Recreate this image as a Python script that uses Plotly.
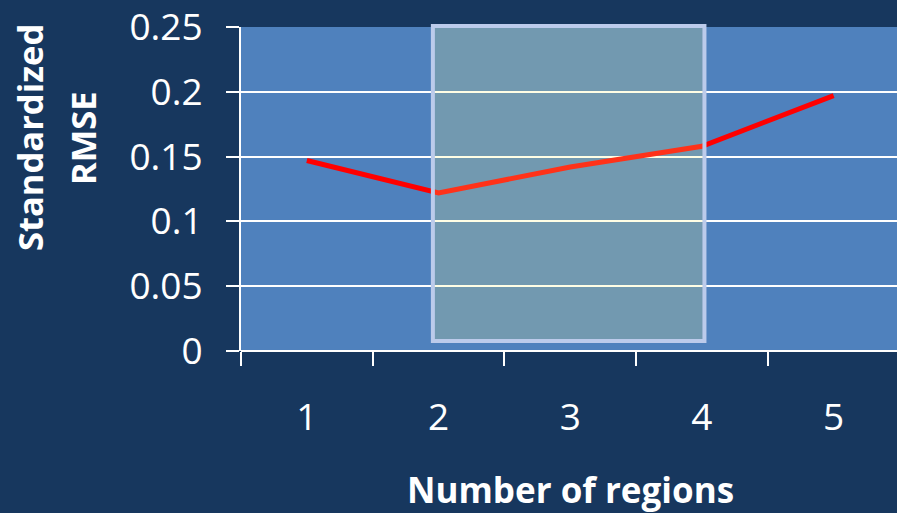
import plotly.graph_objects as go

regions = [1, 2, 3, 4, 5]
rmse = [0.147, 0.122, 0.142, 0.158, 0.197]
x_labels = ["1", "2", "3", "4", "5"]
y_ticks = [0, 0.05, 0.1, 0.15, 0.2, 0.25]
y_labels = ["0", "0.05", "0.1", "0.15", "0.2", "0.25"]
cat_bounds = [0.5, 1.5, 2.5, 3.5, 4.5, 5.5]
highlight = (1.957, 4.019)

NAVY = "#17375E"
PLOT = "#4F81BD"
FONT = "Open Sans"

fig = go.Figure()
fig.add_trace(go.Scatter(x=regions, y=rmse, mode="lines",
                         line=dict(color="#FF0000", width=5), showlegend=False,
                         hoverinfo="skip"))
# invisible trace to activate second x axis (category boundary ticks)
fig.add_trace(go.Scatter(x=[cat_bounds[0]], y=[None], xaxis="x2", showlegend=False,
                         hoverinfo="skip"))

xmax = 0.5 + (897 - 241) / 131.7

fig.update_layout(
    width=897, height=513,
    margin=dict(l=241, r=0, t=27, b=162),
    paper_bgcolor=NAVY, plot_bgcolor=PLOT,
    font=dict(family=FONT, color="white"),
    xaxis=dict(range=[0.5, xmax], tickmode="array", tickvals=regions, ticktext=x_labels,
               ticks="", showgrid=False, zeroline=False, showline=False,
               tickfont=dict(size=37, color="white"), ticklabelstandoff=41),
    xaxis2=dict(range=[0.5, xmax], overlaying="x", side="bottom", anchor="y",
                tickmode="array", tickvals=cat_bounds, ticks="outside", ticklen=14,
                tickwidth=2, tickcolor="white", showticklabels=False,
                showgrid=False, zeroline=False, showline=False),
    yaxis=dict(range=[0, 0.25], tickmode="array", tickvals=y_ticks, ticktext=y_labels,
               ticks="outside", ticklen=13, tickwidth=2, tickcolor="white",
               showgrid=True, gridcolor="white", gridwidth=2,
               zeroline=True, zerolinecolor="white", zerolinewidth=2,
               showline=True, linecolor="white", linewidth=2,
               ticklabeloverflow="allow",
               tickfont=dict(size=37, color="white"), ticklabelstandoff=16),
)

fig.add_shape(type="rect", xref="x", yref="paper",
              x0=highlight[0], x1=highlight[1], y0=0.031, y1=1.003,
              line=dict(color="#BCCBEB", width=4),
              fillcolor="rgba(255,249,124,0.2)", layer="above")

fig.add_annotation(text="<b>Standardized</b>", xref="paper", yref="paper",
                   x=(29 - 241) / 656, y=(351 - 138) / 324, textangle=-90,
                   xanchor="center", yanchor="middle", showarrow=False,
                   font=dict(size=34.5, color="white", family=FONT))
fig.add_annotation(text="<b>RMSE</b>", xref="paper", yref="paper",
                   x=(82 - 241) / 656, y=(351 - 138) / 324, textangle=-90,
                   xanchor="center", yanchor="middle", showarrow=False,
                   font=dict(size=34.5, color="white", family=FONT))
fig.add_annotation(text="<b>Number of regions</b>", xref="paper", yref="paper",
                   x=(570 - 241) / 656, y=(351 - 490) / 324,
                   xanchor="center", yanchor="middle", showarrow=False,
                   font=dict(size=35, color="white", family=FONT))

fig.write_html("out.html")
